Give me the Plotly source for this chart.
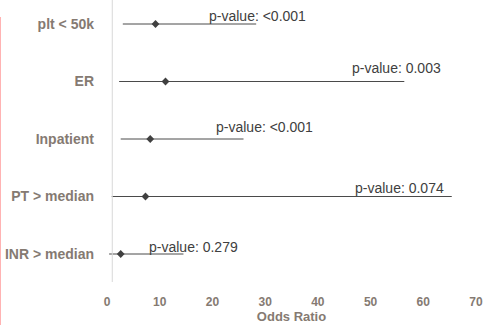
import plotly.graph_objects as go

# ---- data ----
categories = ["plt < 50k", "ER", "Inpatient", "PT > median", "INR > median"]
odds_ratio = [9.2, 11.1, 8.2, 7.3, 2.6]
ci_low = [3.0, 2.3, 2.6, 0.9, 0.4]
ci_high = [28.3, 56.4, 25.9, 65.4, 14.5]
p_labels = ["p-value: <0.001", "p-value: 0.003", "p-value: <0.001", "p-value: 0.074", "p-value: 0.279"]
label_x = [18.9, 46.1, 20.3, 46.6, 7.5]
label_dy = [0.14, 0.24, 0.21, 0.15, 0.12]
x_ticks = [0, 10, 20, 30, 40, 50, 60, 70]
ref_line = 1

n = len(categories)
ypos = [n - i for i in range(n)]

W, H = 501, 325
ML, MR, MT, MB = 107, 25, 0, 43
plot_w = W - ML - MR
plot_h = H - MT - MB

label_color = "#857a72"
dark = "#404040"

fig = go.Figure()
fig.add_trace(go.Scatter(
    x=odds_ratio, y=ypos, mode="markers",
    marker=dict(symbol="diamond", size=6, color=dark),
    error_x=dict(type="data", symmetric=False,
                 array=[h - o for h, o in zip(ci_high, odds_ratio)],
                 arrayminus=[o - l for o, l in zip(odds_ratio, ci_low)],
                 color="#4a4a4a", thickness=1, width=0),
    showlegend=False, hoverinfo="skip",
))

for txt, lx, dy, yy in zip(p_labels, label_x, label_dy, ypos):
    fig.add_annotation(x=lx, y=yy + dy, text=txt, showarrow=False,
                       xanchor="left", yanchor="middle",
                       font=dict(family="Liberation Sans, Arial", size=14, color=dark))

# reference line at OR = 1
fig.add_shape(type="line", xref="x", yref="paper", x0=ref_line, x1=ref_line, y0=0, y1=1,
              line=dict(color="#d9d9d9", width=1))
# pink left border decoration
fig.add_shape(type="line", xref="paper", yref="paper",
              x0=-ML / plot_w, x1=-ML / plot_w,
              y0=(plot_h - 17) / plot_h, y1=-MB / plot_h,
              line=dict(color="#ffb3b3", width=2))

fig.update_xaxes(range=[0, 70], tickvals=x_ticks, ticktext=[str(v) for v in x_ticks],
                 showgrid=False, zeroline=False, showline=False, ticks="",
                 ticklabelstandoff=11,
                 tickfont=dict(family="Liberation Sans, Arial", size=12, color=label_color, weight="bold"),
                 title=dict(text="<b>Odds Ratio</b>", standoff=2,
                            font=dict(family="Liberation Sans, Arial", size=13, color=label_color)))
fig.update_yaxes(range=[1 - 28 / 57.5, 5 + 24 / 57.5], tickvals=ypos, ticktext=categories,
                 showgrid=False, zeroline=False, showline=False, ticks="",
                 ticklabelstandoff=12,
                 tickfont=dict(family="Liberation Sans, Arial", size=14, color=label_color, weight="bold"))

fig.update_layout(width=W, height=H, margin=dict(l=ML, r=MR, t=MT, b=MB),
                  paper_bgcolor="white", plot_bgcolor="white")

fig.write_html("out.html")
